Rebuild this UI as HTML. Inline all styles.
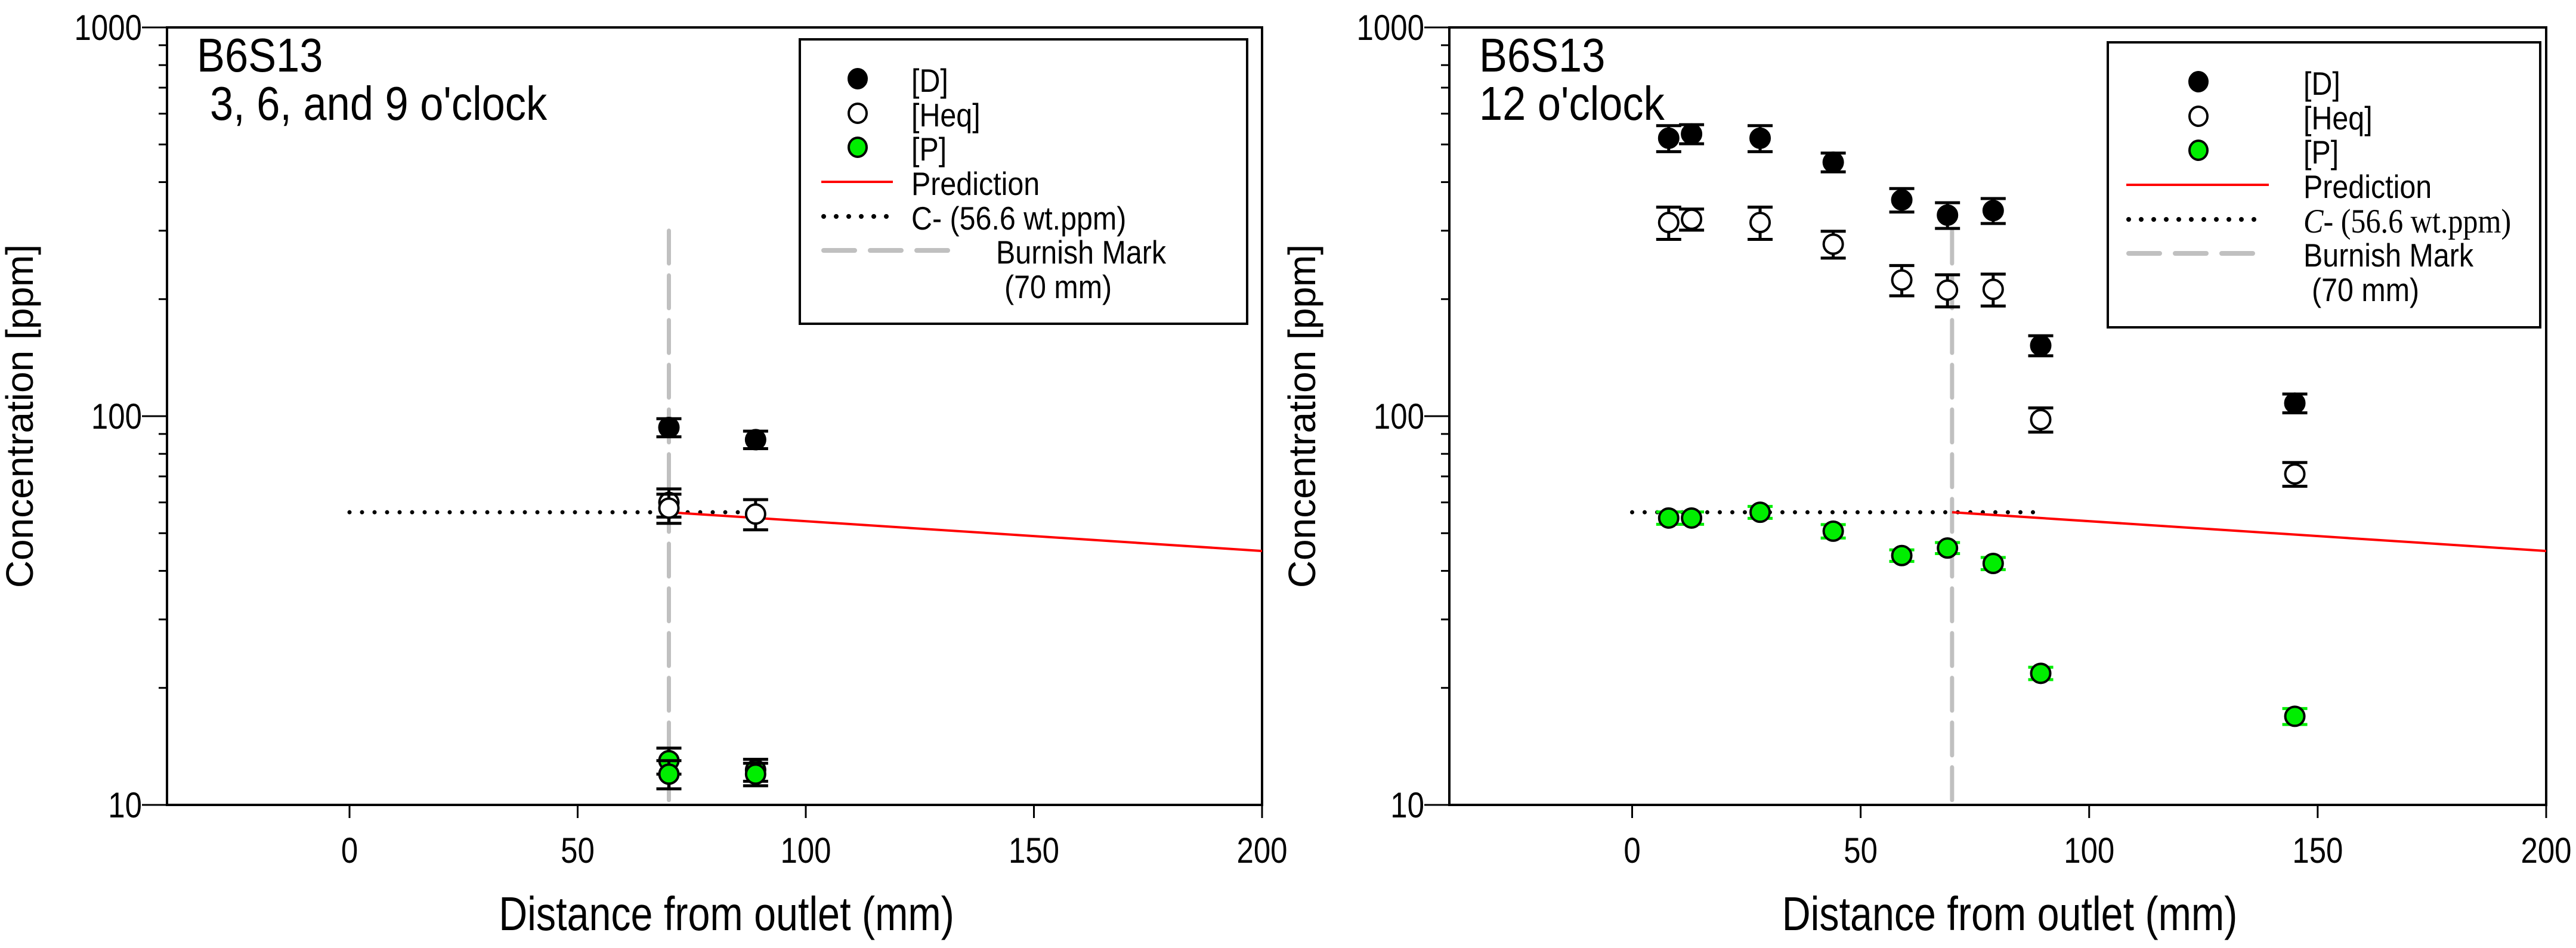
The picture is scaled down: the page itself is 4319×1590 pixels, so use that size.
<!DOCTYPE html>
<html><head><meta charset="utf-8"><style>
html,body{margin:0;padding:0;background:#fff}
svg{display:block}
text{font-family:"Liberation Sans",sans-serif;fill:#000}
</style></head><body>
<svg id="chart" width="4319" height="1590" viewBox="0 0 4319 1590" xmlns="http://www.w3.org/2000/svg">
<g id="p1"></g>
<g id="p2"></g>
</svg>
<script>
// ---- data ----
const xTicks = [0, 50, 100, 150, 200];
const yTicks = [10, 100, 1000];
const cMinus = 56.6;
const predX = [70, 200];
const predY = [56.6, 45];
const burnishX = 70;
const burnishTop = 300;
const dottedEnd = 88;

// left panel (3, 6, and 9 o'clock)
const L_D_x = [70, 89];
const L_D_y = [93.5, 87];
const L_D_e = [5, 4.5];
const L_H_x = [70, 70, 89];
const L_H_y = [60, 58, 56];
const L_H_e = [5, 5, 5];
const L_P_x = [70, 70, 89, 89];
const L_P_y = [13, 12, 12.3, 12];
const L_P_e = [1, 1, 0.8, 0.8];

// right panel (12 o'clock)
const R_x = [8, 13, 28, 44, 59, 69, 79, 89.4, 145];
const R_D_y = [519, 532, 519, 450, 360, 329, 338, 152, 108];
const R_D_e = [40, 30, 40, 25, 25, 25, 25, 9, 6];
const R_H_y = [315, 321, 315, 277, 224, 211, 212, 98, 71];
const R_H_e = [30, 20, 30, 22, 20, 20, 20, 7, 5];
const R_P_y = [54.7, 54.7, 56.6, 50.6, 43.8, 45.8, 41.8, 21.8, 16.9];
const R_P_e = [2, 2, 2, 2, 1.5, 1.5, 1.5, 0.8, 0.8];

const NS = "http://www.w3.org/2000/svg";
function mk(parent, tag, attrs, txt){
  const e = document.createElementNS(NS, tag);
  for (const k in attrs) e.setAttribute(k, attrs[k]);
  if (txt !== undefined) e.textContent = txt;
  parent.appendChild(e); return e;
}
function txt(parent, x, y, s, size, anchor, sx, extra){
  const e = mk(parent, 'text', Object.assign({transform:`translate(${x},${y}) scale(${sx},1)`, 'font-size':size, 'text-anchor':anchor||'start'}, extra||{}), s);
  return e;
}

function panel(g, o){
  const L=o.left, R=o.right, T=46, B=1350;
  const xs = v => L + (v - (-40)) / 240 * (R - L);
  const ys = v => B - (Math.log10(v) - 1) / 2 * (B - T);
  const frame = mk(g,'rect',{x:L,y:T,width:R-L,height:B-T,fill:'none',stroke:'#000','stroke-width':4});
  
  
  for (let d=1; d<=2; d++) for (let m=1; m<=10; m++){
    const v = m*Math.pow(10,d); if (m===10 && d===1) continue;
    const major = (m===1||m===10);
    const y = ys(v);
    const t = mk(g,'line',{x1:L-(major?42:14),x2:L,y1:y,y2:y,stroke:'#000','stroke-width':3});
    
    
  }
  const t10 = mk(g,'line',{x1:L-42,x2:L,y1:ys(10),y2:ys(10),stroke:'#000','stroke-width':3});
  
  
  yTicks.forEach(v=>{
    const e = txt(g, L-42, ys(v)+21, String(v), 60, 'end', 0.85);
    
    
  });
  xTicks.forEach(v=>{
    const x = xs(v);
    const t = mk(g,'line',{x1:x,x2:x,y1:B,y2:B+22,stroke:'#000','stroke-width':3});
    
    
    const e = txt(g, x, B+97, String(v), 60, 'middle', 0.85);
    
    
  });
  const xl = txt(g, (L+R)/2 + 20, 1560, 'Distance from outlet (mm)', 80, 'middle', 0.83);
  
  
  const yl = mk(g,'text',{transform:`translate(${L-225},698) rotate(-90)`,'font-size':64,'text-anchor':'middle'},'Concentration [ppm]');
  
  
  const t1 = txt(g, L+50, 120, 'B6S13', 80, 'start', 0.88);
  
  
  const t2 = txt(g, L+o.subDx, 201, o.sub, 80, 'start', 0.88);
  
  

  const bm = mk(g,'line',{x1:xs(burnishX),x2:xs(burnishX),y1:ys(burnishTop),y2:B,stroke:'#c0c0c0','stroke-width':7,'stroke-dasharray':'55 20','stroke-linecap':'round'});
  
  
  const cm = mk(g,'line',{x1:xs(0),x2:xs(dottedEnd),y1:ys(cMinus),y2:ys(cMinus),stroke:'#000','stroke-width':7,'stroke-dasharray':'0 21','stroke-linecap':'round'});
  
  
  const pr = mk(g,'line',{x1:xs(predX[0]),x2:xs(predX[1]),y1:ys(predY[0]),y2:ys(predY[1]),stroke:'#ff0000','stroke-width':4});
  
  

  function series(xv, yv, ev, fill, capColor, name){
    xv.forEach((xx,i)=>{
      const x = xs(xx), y = ys(yv[i]);
      const y1 = ys(yv[i]+ev[i]), y2 = ys(yv[i]-ev[i]);
      const eb = mk(g,'path',{d:`M${x},${y1}V${y2}M${x-21},${y1}H${x+21}M${x-21},${y2}H${x+21}`,stroke:capColor,'stroke-width':5,fill:'none'});
      
      
      const c = mk(g,'ellipse',{cx:x,cy:y,rx:16,ry:16,fill:fill,stroke:'#000','stroke-width':4});
      
      
    });
  }
  o.series.forEach(s=>series(s[0],s[1],s[2],s[3],s[4],s[5]));

  const lg = mk(g,'g',{});
  
  
  const lb = o.legend;
  mk(lg,'rect',{x:lb.x,y:lb.y,width:lb.w,height:lb.h,fill:'#fff',stroke:'#000','stroke-width':4});
  const rows = [132,190,247,305,363,420,478].map(v=>v+lb.dy);
  const entries = [['[D]','#000'],['[Heq]','#fff'],['[P]','#00ee00']];
  const FS = 55, SX = 0.88, BO = 22;
  entries.forEach((en,i)=>{
    const c = mk(lg,'ellipse',{cx:lb.mx,cy:rows[i],rx:15,ry:16,fill:en[1],stroke:'#000','stroke-width':4});
    
    
    const t = txt(lg, lb.tx, rows[i]+BO, en[0], FS, 'start', SX);
    
    
  });
  mk(lg,'line',{x1:lb.lx1,x2:lb.lx2,y1:rows[3],y2:rows[3],stroke:'#f00','stroke-width':4});
  const tp = txt(lg, lb.tx, rows[3]+BO, 'Prediction', FS, 'start', SX);
  
  
  mk(lg,'line',{x1:lb.lx1+4,x2:lb.lx3,y1:rows[4],y2:rows[4],stroke:'#000','stroke-width':8,'stroke-dasharray':'0 21','stroke-linecap':'round'});
  let tc;
  if (o.serifC){
    tc = mk(lg,'text',{transform:`translate(${lb.tx},${rows[4]+BO}) scale(0.88,1)`,'font-size':57,style:'font-family:"Liberation Serif",serif'});
    mk(tc,'tspan',{'font-style':'italic'},'C');
    mk(tc,'tspan',{},'- (56.6 wt.ppm)');
  } else {
    tc = txt(lg, lb.tx, rows[4]+BO, 'C- (56.6 wt.ppm)', FS, 'start', SX);
  }
  
  
  mk(lg,'line',{x1:lb.lx1+4,x2:lb.lx4,y1:rows[5],y2:rows[5],stroke:'#c0c0c0','stroke-width':8,'stroke-dasharray':'52 26','stroke-linecap':'round'});
  const tb = txt(lg, lb.bx, rows[5]+BO, 'Burnish Mark', FS, 'start', SX);
  
  
  const t7 = txt(lg, lb.bx+14, rows[6]+BO, '(70 mm)', FS, 'start', SX);
  
  
}

panel(document.getElementById('p1'), {
  left:280, right:2116, sub:'3, 6, and 9 o\'clock', subDx:72, serifC:false,
  series:[[L_D_x,L_D_y,L_D_e,'#000','#000','d'],[L_H_x,L_H_y,L_H_e,'#fff','#000','heq'],[L_P_x,L_P_y,L_P_e,'#00ee00','#000','p']],
  legend:{x:1341,y:66,w:750,h:477,dy:0,mx:1438,tx:1528,lx1:1377,lx2:1497,lx3:1490,lx4:1595,bx:1670}
});
panel(document.getElementById('p2'), {
  left:2430, right:4269, sub:'12 o\'clock', subDx:50, serifC:true,
  series:[[R_x,R_D_y,R_D_e,'#000','#000','d'],[R_x,R_H_y,R_H_e,'#fff','#000','heq'],[R_x,R_P_y,R_P_e,'#00ee00','#00ee00','p']],
  legend:{x:3534,y:71,w:725,h:478,dy:5,mx:3686,tx:3862,lx1:3565,lx2:3804,lx3:3790,lx4:3780,bx:3862}
});
</script>
</body></html>
